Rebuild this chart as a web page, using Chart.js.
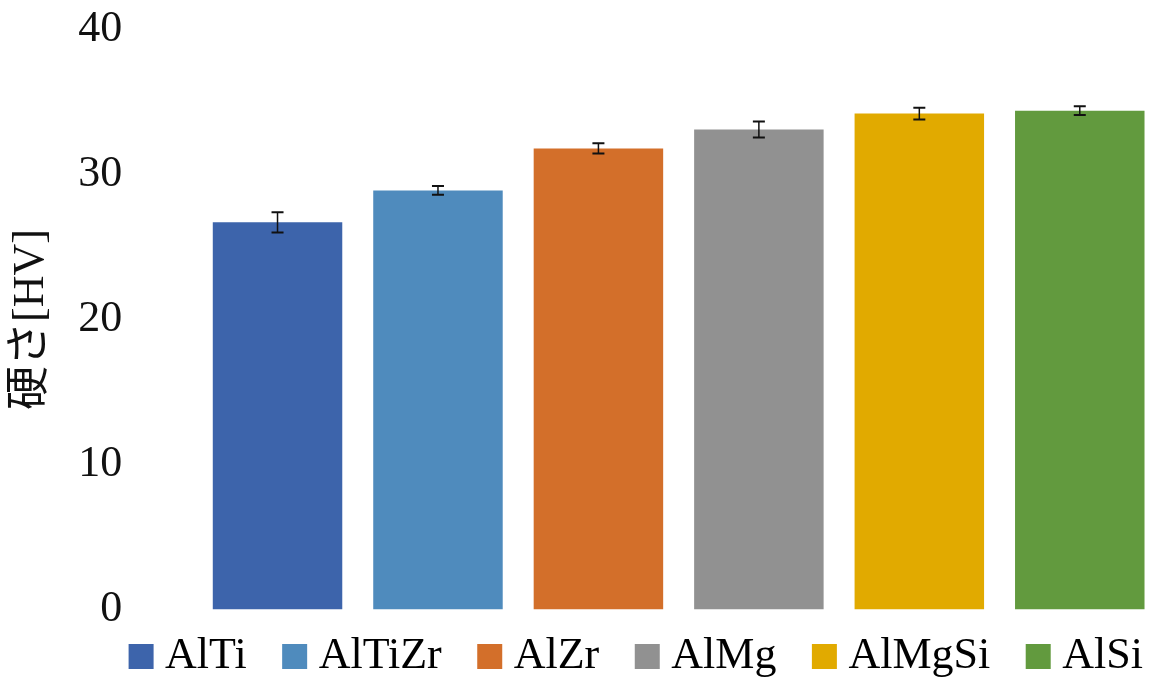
<!DOCTYPE html>
<html>
<head>
<meta charset="utf-8">
<script src="https://cdn.jsdelivr.net/npm/chart.js@4"></script>
<style>
    html, body { margin: 0; padding: 0; background: #fff; overflow: hidden; }
    #hardness-chart { display: block; }
</style>
</head>
<body>
<canvas id="hardness-chart" width="1160" height="680"></canvas>
<script>
var categories = ['AlTi', 'AlTiZr', 'AlZr', 'AlMg', 'AlMgSi', 'AlSi'];
var hardness = [26.7, 28.9, 31.8, 33.1, 34.2, 34.4];
var hardnessErr = [0.7, 0.3, 0.35, 0.55, 0.4, 0.3];
var barColors = ['#3d64ab', '#4f8bbd', '#d36f2a', '#919191', '#e1aa00', '#629a3e'];
var yTicks = [0, 10, 20, 30, 40];
var yTitle = '硬さ[HV]';

Chart.defaults.font.family = "'Liberation Serif', 'Noto Sans CJK JP', serif";
Chart.defaults.color = '#111';

// error bars drawn from the y scale
var errorBars = {
    id: 'errorBars',
    afterDatasetsDraw: function (chart) {
        var ctx = chart.ctx;
        var y = chart.scales.y;
        var meta = chart.getDatasetMeta(0);
        ctx.save();
        ctx.strokeStyle = '#111';
        meta.data.forEach(function (bar, i) {
            var top = y.getPixelForValue(hardness[i] + hardnessErr[i]);
            var bot = y.getPixelForValue(hardness[i] - hardnessErr[i]);
            ctx.lineWidth = 1.5;
            ctx.beginPath();
            ctx.moveTo(bar.x, top);
            ctx.lineTo(bar.x, bot);
            ctx.stroke();
            ctx.lineWidth = 2;
            ctx.beginPath();
            ctx.moveTo(bar.x - 6, top);
            ctx.lineTo(bar.x + 6, top);
            ctx.moveTo(bar.x - 6, bot);
            ctx.lineTo(bar.x + 6, bot);
            ctx.stroke();
        });
        ctx.restore();
    }
};

// move the legend row to where the original sits
var legendPlace = {
    id: 'legendPlace',
    afterLayout: function (chart) {
        chart.legend.left = 80;
        chart.legend.right = 1202;
        chart.legend.top -= 21;
    }
};

new Chart(document.getElementById('hardness-chart').getContext('2d'), {
    type: 'bar',
    data: {
        labels: categories,
        datasets: [{
            data: hardness,
            backgroundColor: barColors,
            borderWidth: 0,
            barPercentage: 0.807,
            categoryPercentage: 1
        }]
    },
    options: {
        responsive: false,
        animation: false,
        layout: {
            padding: { top: 29.5, right: 0, bottom: 0, left: 0 }
        },
        scales: {
            x: {
                display: false
            },
            y: {
                min: yTicks[0],
                max: yTicks[yTicks.length - 1],
                afterFit: function (scale) {
                    scale.width = 197.3;
                },
                grid: { display: false, drawTicks: true, tickLength: 72 },
                border: { display: false },
                ticks: {
                    stepSize: yTicks[1] - yTicks[0],
                    padding: 3,
                    font: { size: 44 },
                    color: '#111'
                },
                title: {
                    display: true,
                    text: yTitle,
                    font: { size: 44 },
                    color: '#111',
                    padding: { top: 5, bottom: 0 }
                }
            }
        },
        plugins: {
            legend: {
                display: true,
                position: 'bottom',
                maxHeight: 70.5,
                onClick: function () {},
                labels: {
                    usePointStyle: true,
                    boxWidth: 4,
                    boxHeight: 25,
                    padding: 46,
                    font: { size: 44 },
                    color: '#111',
                    generateLabels: function () {
                        return categories.map(function (name, i) {
                            return {
                                text: name,
                                fillStyle: barColors[i],
                                strokeStyle: barColors[i],
                                lineWidth: 0,
                                pointStyle: 'rect',
                                hidden: false,
                                index: i
                            };
                        });
                    }
                }
            },
            tooltip: { enabled: false }
        }
    },
    plugins: [errorBars, legendPlace]
});
</script>
</body>
</html>
